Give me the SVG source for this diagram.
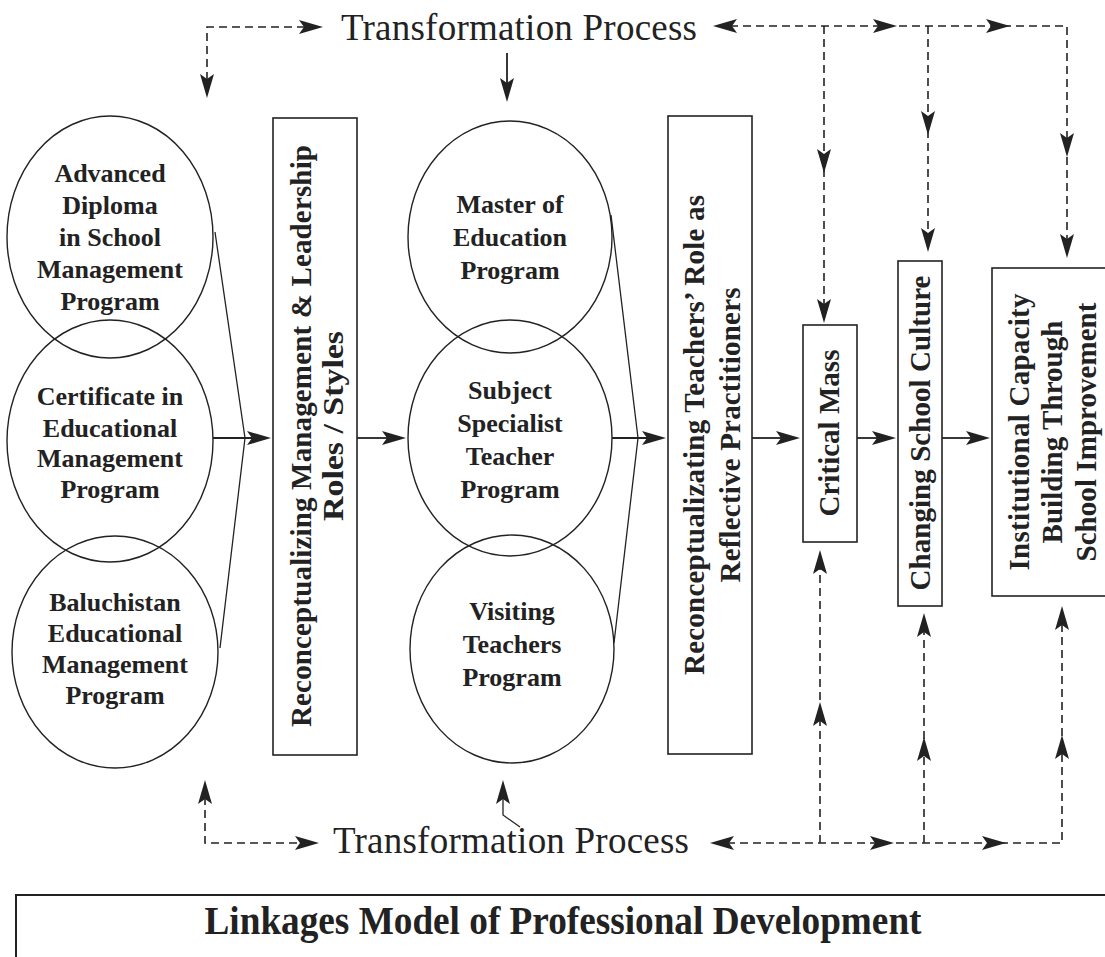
<svg xmlns="http://www.w3.org/2000/svg" xmlns:xlink="http://www.w3.org/1999/xlink" width="1105" height="957" viewBox="0 0 1105 957">
<style>
  .ell { fill: none; stroke: #222; stroke-width: 1.4; }
  .box { fill: #fff; stroke: #222; stroke-width: 1.6; }
  .lbl { font-family: "Liberation Serif", "Times New Roman", serif; font-weight: bold; font-size: 26px; fill: #222; text-anchor: middle; }
  .vlbl { font-family: "Liberation Serif", "Times New Roman", serif; font-weight: bold; font-size: 29px; fill: #222; text-anchor: middle; }
  .tp { font-family: "Liberation Serif", "Times New Roman", serif; font-size: 37px; fill: #222; }
  .title { font-family: "Liberation Serif", "Times New Roman", serif; font-weight: bold; font-size: 40px; fill: #222; text-anchor: middle; }
  .solid { fill: none; stroke: #222; stroke-width: 1.8; }
  .thin { fill: none; stroke: #222; stroke-width: 1.3; }
  .dash { fill: none; stroke: #222; stroke-width: 1.6; stroke-dasharray: 8 5; }
  .ah { fill: #222; }
</style>
<defs>
  <path id="ah" d="M0,0 L-24,-7 L-19,0 L-24,7 Z"/>
</defs>
<rect width="1105" height="957" fill="#fff"/>

<g id="left-ellipses">
  <g id="n-advanced">
    <ellipse class="ell" cx="110" cy="237" rx="103" ry="121"/>
    <text class="lbl" x="110" y="182">Advanced</text>
    <text class="lbl" x="110" y="214">Diploma</text>
    <text class="lbl" x="110" y="246">in School</text>
    <text class="lbl" x="110" y="278">Management</text>
    <text class="lbl" x="110" y="310">Program</text>
  </g>
  <g id="n-certificate">
    <ellipse class="ell" cx="110" cy="441" rx="103" ry="121"/>
    <text class="lbl" x="110" y="405">Certificate in</text>
    <text class="lbl" x="110" y="437">Educational</text>
    <text class="lbl" x="110" y="467">Management</text>
    <text class="lbl" x="110" y="498">Program</text>
  </g>
  <g id="n-baluchistan">
    <ellipse class="ell" cx="115" cy="652" rx="103" ry="116"/>
    <text class="lbl" x="115" y="611">Baluchistan</text>
    <text class="lbl" x="115" y="642">Educational</text>
    <text class="lbl" x="115" y="673">Management</text>
    <text class="lbl" x="115" y="704">Program</text>
  </g>
</g>

<g id="n-mgmt-box">
  <rect class="box" x="273" y="118" width="84" height="637"/>
  <text class="vlbl" transform="translate(311,436) rotate(-90)" textLength="582">Reconceptualizing Management &amp; Leadership</text>
  <text class="vlbl" transform="translate(343,426) rotate(-90)" textLength="190" lengthAdjust="spacingAndGlyphs">Roles / Styles</text>
</g>

<g id="middle-ellipses">
  <g id="n-master">
    <ellipse class="ell" cx="510" cy="237" rx="102" ry="116"/>
    <text class="lbl" x="510" y="213">Master of</text>
    <text class="lbl" x="510" y="246">Education</text>
    <text class="lbl" x="510" y="279">Program</text>
  </g>
  <g id="n-subject">
    <ellipse class="ell" cx="510" cy="438" rx="102" ry="118"/>
    <text class="lbl" x="510" y="399">Subject</text>
    <text class="lbl" x="510" y="432">Specialist</text>
    <text class="lbl" x="510" y="465">Teacher</text>
    <text class="lbl" x="510" y="498">Program</text>
  </g>
  <g id="n-visiting">
    <ellipse class="ell" cx="512" cy="649" rx="102" ry="114"/>
    <text class="lbl" x="512" y="620">Visiting</text>
    <text class="lbl" x="512" y="653">Teachers</text>
    <text class="lbl" x="512" y="686">Program</text>
  </g>
</g>

<g id="n-teachers-box">
  <rect class="box" x="668" y="116" width="84" height="638"/>
  <text class="vlbl" transform="translate(704,435) rotate(-90)" textLength="480">Reconceptualizating Teachers’ Role as</text>
  <text class="vlbl" transform="translate(740,435) rotate(-90)" textLength="295">Reflective Practitioners</text>
</g>

<g id="n-critical">
  <rect class="box" x="803" y="325" width="54" height="217"/>
  <text class="vlbl" transform="translate(839,433) rotate(-90)" textLength="167">Critical Mass</text>
</g>

<g id="n-culture">
  <rect class="box" x="898" y="261" width="44" height="345"/>
  <text class="vlbl" transform="translate(930,433) rotate(-90)" textLength="315">Changing School Culture</text>
</g>

<g id="n-institutional">
  <rect class="box" x="992" y="268" width="130" height="328"/>
  <text class="vlbl" transform="translate(1029,432) rotate(-90)" textLength="277">Institutional Capacity</text>
  <text class="vlbl" transform="translate(1062,432) rotate(-90)" textLength="223">Building Through</text>
  <text class="vlbl" transform="translate(1096,432) rotate(-90)" textLength="259">School Improvement</text>
</g>

<g id="n-tp-top">
  <text class="tp" x="341" y="40" textLength="356">Transformation Process</text>
</g>
<g id="n-tp-bottom">
  <text class="tp" x="333" y="853" textLength="356">Transformation Process</text>
</g>

<g id="n-title">
  <path d="M1110,895 L16,895 L16,960" fill="none" stroke="#222" stroke-width="2"/>
  <text class="title" x="563" y="934" textLength="717" lengthAdjust="spacingAndGlyphs">Linkages Model of Professional Development</text>
</g>

<g id="connectors">
  <!-- left converging lines -->
  <path class="thin" d="M215,232 L245,438 L220,648"/>
  <path class="solid" d="M213,438 L252,438"/>
  <use href="#ah" class="ah" transform="translate(271,438)"/>
  <!-- mgmt box to middle -->
  <path class="solid" d="M357,438 L388,438"/>
  <use href="#ah" class="ah" transform="translate(406,438)"/>
  <!-- middle converging lines -->
  <path class="thin" d="M611,215 L638,438 L614,643"/>
  <path class="solid" d="M612,438 L648,438"/>
  <use href="#ah" class="ah" transform="translate(666,438)"/>
  <!-- teachers to critical -->
  <path class="solid" d="M752,438 L782,438"/>
  <use href="#ah" class="ah" transform="translate(800,438)"/>
  <!-- critical to culture -->
  <path class="solid" d="M857,438 L878,438"/>
  <use href="#ah" class="ah" transform="translate(896,438)"/>
  <!-- culture to institutional -->
  <path class="solid" d="M942,438 L972,438"/>
  <use href="#ah" class="ah" transform="translate(990,438)"/>

  <!-- top left dashed -->
  <path class="dash" d="M207,80 L207,27 L305,27"/>
  <use href="#ah" class="ah" transform="translate(323,27)"/>
  <use href="#ah" class="ah" transform="translate(207,98) rotate(90)"/>
  <!-- top center solid -->
  <path class="solid" d="M507,53 L507,84"/>
  <use href="#ah" class="ah" transform="translate(507,102) rotate(90)"/>
  <!-- top right dashed network -->
  <path class="dash" d="M730,26 L1067,26 L1067,240"/>
  <use href="#ah" class="ah" transform="translate(713,26) rotate(180)"/>
  <use href="#ah" class="ah" transform="translate(897,26)"/>
  <use href="#ah" class="ah" transform="translate(1010,26)"/>
  <use href="#ah" class="ah" transform="translate(1067,157) rotate(90)"/>
  <use href="#ah" class="ah" transform="translate(1067,258) rotate(90)"/>
  <path class="dash" d="M824,26 L824,305"/>
  <use href="#ah" class="ah" transform="translate(824,173) rotate(90)"/>
  <use href="#ah" class="ah" transform="translate(824,323) rotate(90)"/>
  <path class="dash" d="M928,26 L928,240"/>
  <use href="#ah" class="ah" transform="translate(928,135) rotate(90)"/>
  <use href="#ah" class="ah" transform="translate(928,252) rotate(90)"/>

  <!-- bottom left dashed -->
  <path class="dash" d="M205,797 L205,843 L301,843"/>
  <use href="#ah" class="ah" transform="translate(319,843)"/>
  <use href="#ah" class="ah" transform="translate(205,780) rotate(-90)"/>
  <!-- bottom center solid -->
  <path class="thin" d="M520,827 L503,815 L503,797"/>
  <use href="#ah" class="ah" transform="translate(503,780) rotate(-90)"/>
  <!-- bottom right dashed network -->
  <path class="dash" d="M727,843 L1062,843 L1062,623"/>
  <use href="#ah" class="ah" transform="translate(710,843) rotate(180)"/>
  <use href="#ah" class="ah" transform="translate(894,843)"/>
  <use href="#ah" class="ah" transform="translate(1006,843)"/>
  <use href="#ah" class="ah" transform="translate(1062,735) rotate(-90)"/>
  <use href="#ah" class="ah" transform="translate(1062,606) rotate(-90)"/>
  <path class="dash" d="M820,843 L820,567"/>
  <use href="#ah" class="ah" transform="translate(820,702) rotate(-90)"/>
  <use href="#ah" class="ah" transform="translate(820,550) rotate(-90)"/>
  <path class="dash" d="M924,843 L924,630"/>
  <use href="#ah" class="ah" transform="translate(924,737) rotate(-90)"/>
  <use href="#ah" class="ah" transform="translate(924,613) rotate(-90)"/>
</g>
</svg>
